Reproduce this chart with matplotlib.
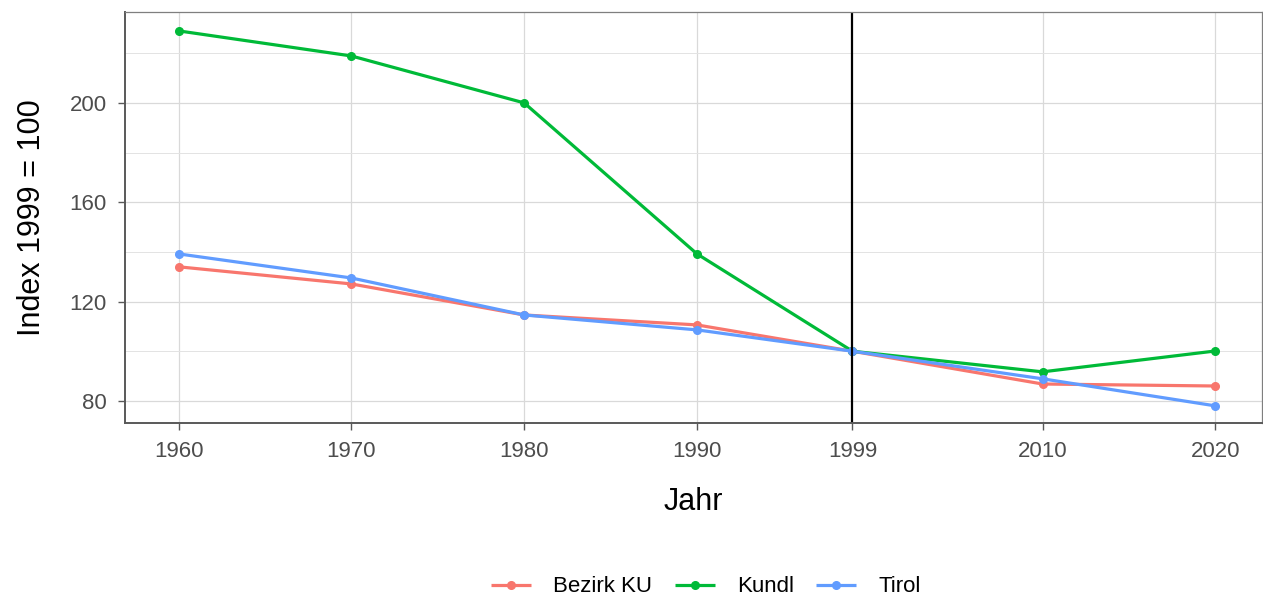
import numpy as np
import matplotlib
matplotlib.use("Agg")
import matplotlib.pyplot as plt
from matplotlib.ticker import MultipleLocator

plt.rcParams['font.family'] = ['Liberation Sans', 'DejaVu Sans']

# Daten
jahre = [1960, 1970, 1980, 1990, 1999, 2010, 2020]
bezirk_ku = [134.0, 127.1, 114.6, 110.6, 100.0, 86.8, 86.0]
kundl = [229.0, 218.9, 200.0, 139.2, 100.0, 91.7, 100.1]
tirol = [139.2, 129.5, 114.6, 108.6, 100.0, 88.9, 78.0]

reihen = [("Bezirk KU", bezirk_ku, "#F8766D"),
          ("Kundl", kundl, "#00BA38"),
          ("Tirol", tirol, "#619CFF")]

fig = plt.figure(figsize=(12.63, 5.98), dpi=100)
ax = fig.add_axes([125 / 1263, 1 - 423 / 598, 1137 / 1263, 411 / 598])

# Gitter
ax.set_axisbelow(True)
ax.yaxis.set_major_locator(MultipleLocator(40))
ax.yaxis.set_minor_locator(MultipleLocator(20))
ax.set_xticks(jahre)
ax.grid(True, which="major", color="#D9D9D9", lw=0.9)
ax.grid(True, which="minor", axis="y", color="#E3E3E3", lw=0.7)
ax.xaxis.get_gridlines()[4].set_visible(False)

for name, werte, farbe in reihen:
    ax.plot(jahre, werte, color=farbe, lw=2.3, marker="o", ms=5.5, label=name,
            solid_capstyle="butt")

ax.axvline(1999, color="black", lw=1.6)

ax.set_xlim(1956.9, 2022.7)
ax.set_ylim(71.1, 236.6)

for s in ["top", "right"]:
    ax.spines[s].set_color("#7F7F7F")
    ax.spines[s].set_linewidth(0.9)
for s in ["left", "bottom"]:
    ax.spines[s].set_color("#595959")
    ax.spines[s].set_linewidth(1.4)

ax.tick_params(which="major", length=5, width=1.0, color="#595959",
               labelsize=16, labelcolor="#4D4D4D")
ax.tick_params(axis="x", pad=8)
ax.tick_params(axis="y", pad=8)
ax.tick_params(which="minor", length=0)

ax.set_xlabel("Jahr", fontsize=22, labelpad=18)
ax.set_ylabel("Index 1999 = 100", fontsize=22, labelpad=16)

fig.legend(loc="center", bbox_to_anchor=(706 / 1263, 1 - 587 / 598), ncol=3,
           frameon=False, fontsize=16, handlelength=1.8, columnspacing=1.0,
           handletextpad=1.0)

fig.savefig("out.png", dpi=100)
